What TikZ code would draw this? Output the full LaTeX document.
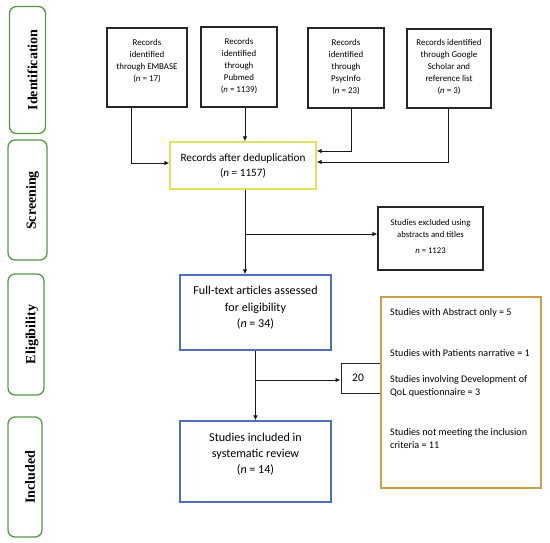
\documentclass[tikz,border=0pt]{standalone}
\usepackage{fontspec}
\setmainfont{Carlito}
\newfontfamily\labelfont{Liberation Serif}
\usetikzlibrary{arrows.meta,calc}
\definecolor{lgreen}{RGB}{90,150,70}
\definecolor{byellow}{RGB}{225,225,90}
\definecolor{bblue}{RGB}{80,110,190}
\definecolor{borange}{RGB}{200,160,70}
\begin{document}
\begin{tikzpicture}[x=1pt,y=-1pt,
  box/.style={draw=black!85, line width=1.2pt, inner sep=0pt},
  stagebox/.style={draw=lgreen, line width=1.3pt, rounded corners=7pt, inner sep=0pt},
  stagetext/.style={rotate=90, font=\labelfont\bfseries\fontsize{14}{16}\selectfont, inner sep=0pt},
  srctext/.style={align=center, font=\fontsize{8.9}{12}\selectfont, inner sep=0pt},
  midtext/.style={align=center, font=\fontsize{11.2}{15.5}\selectfont, inner sep=0pt},
  otext/.style={align=left, anchor=base west, font=\fontsize{10.1}{12.6}\selectfont, inner sep=0pt},
  conn/.style={draw=black!90, line width=0.9pt, -{Latex[length=5pt,width=4.5pt]}},
  plain/.style={draw=black!90, line width=0.9pt}]
\useasboundingbox (0,0) rectangle (550,543);

% stage labels
\node[stagebox, minimum width=36pt, minimum height=127pt] (sid) at (27.5,70) {};
\node[stagetext] (sidt) at (32.5,70) {Identification};
\node[stagebox, minimum width=39pt, minimum height=120pt] (ssc) at (27.5,200) {};
\node[stagetext] (ssct) at (32.5,200.5) {Screening};
\node[stagebox, minimum width=36pt, minimum height=121pt] (sel) at (26,334.5) {};
\node[stagetext] (selt) at (32,334.5) {Eligibility};
\node[stagebox, minimum width=34pt, minimum height=120pt] (sin) at (25,477) {};
\node[stagetext] (sint) at (30,477) {Included};

% source boxes
\node[box, minimum width=80pt, minimum height=79pt] (emb) at (147,67.5) {};
\node[srctext] (embt) at (147,61.5) {Records\\identified\\through EMBASE\\(\textit{n} = 17)};
\node[box, minimum width=76pt, minimum height=80pt] (pub) at (239,67) {};
\node[srctext] (pubt) at (239,66.5) {Records\\identified\\through\\Pubmed\\(\textit{n} = 1139)};
\node[box, minimum width=76pt, minimum height=80pt] (psy) at (346,68) {};
\node[srctext] (psyt) at (346,67.5) {Records\\identified\\through\\PsycInfo\\(\textit{n} = 23)};
\node[box, minimum width=84pt, minimum height=79pt] (goo) at (449,68.5) {};
\node[srctext] (goot) at (449,67.5) {Records identified\\through Google\\Scholar and\\reference list\\(\textit{n} = 3)};

% dedup
\node[draw=byellow, line width=1.3pt, inner sep=0pt, minimum width=146pt, minimum height=47pt] (dedup) at (243,165.5) {};
\node[midtext] (dedupt) at (243,166) {Records after deduplication\\(\textit{n} = 1157)};

% excluded
\node[box, minimum width=105pt, minimum height=63pt] (excl) at (430.5,238.5) {};
\node[align=center, font=\fontsize{8.7}{11.5}\selectfont, inner sep=0pt] (exclt) at (430.5,237) {Studies excluded using\\abstracts and titles\\[5pt]\textit{n} = 1123};

% full text
\node[draw=bblue, line width=1.3pt, inner sep=0pt, minimum width=151pt, minimum height=75pt] (full) at (255.5,312.5) {};
\node[midtext, font=\fontsize{12.1}{16.5}\selectfont] (fullt) at (255.5,308) {Full-text articles assessed\\for eligibility\\(\textit{n} = 34)};

% included
\node[draw=bblue, line width=1.3pt, inner sep=0pt, minimum width=151pt, minimum height=81pt] (incl) at (255.5,461.5) {};
\node[midtext, font=\fontsize{12.1}{16}\selectfont] (inclt) at (255.5,454.5) {Studies included in\\systematic review\\(\textit{n} = 14)};

% 20
\node[box, line width=1pt, minimum width=39pt, minimum height=30pt] (twenty) at (360.5,378) {};
\node[font=\fontsize{11.5}{12}\selectfont, inner sep=0pt] (twentyt) at (358,377.5) {20};

% orange
\node[draw=borange, line width=1.3pt, inner sep=0pt, minimum width=160pt, minimum height=191pt] (orng) at (461,392.5) {};
\node[otext] (o1) at (390,316) {Studies with Abstract only = 5};
\node[otext] (o2) at (390,356) {Studies with Patients narrative = 1};
\node[otext] (o3) at (390,395) {Studies involving Development of\\QoL questionnaire = 3};
\node[otext] (o4) at (390,448) {Studies not meeting the inclusion\\criteria = 11};

% connectors
\draw[conn] ($(emb.south west)!0.3125!(emb.south east)$) |- ([yshift=2.5pt]dedup.west);
\draw[conn] ([xshift=6pt]pub.south) coordinate (p1) -- (p1 |- dedup.north);
\draw[conn] ([xshift=5pt]psy.south) |- ([yshift=14.5pt]dedup.east);
\draw[conn] ([xshift=-1pt]goo.south) |- ([yshift=3.5pt]dedup.east);
\draw[conn] ([xshift=2pt]dedup.south) coordinate (d1) -- (d1 |- full.north);
\coordinate (e1) at ([yshift=4.5pt]excl.west);
\draw[conn] (d1 |- e1) -- (e1);
\draw[conn] (full.south) -- (incl.north);
\coordinate (t1) at ([yshift=-2pt]twenty.west);
\draw[conn] (full.south |- t1) -- (t1);
\end{tikzpicture}
\end{document}
